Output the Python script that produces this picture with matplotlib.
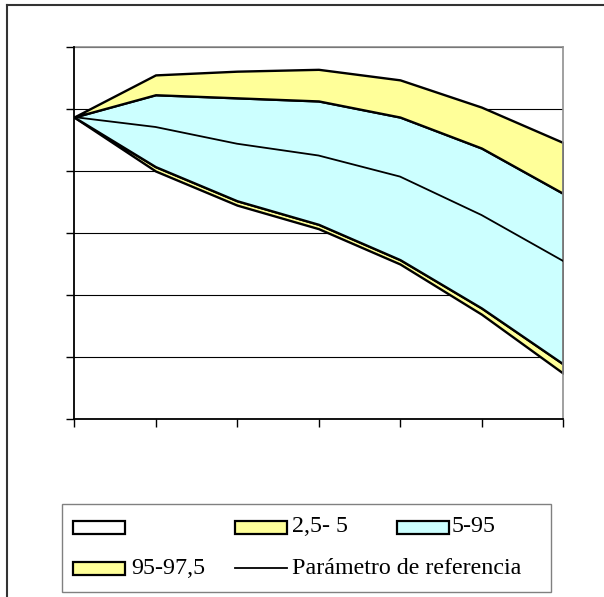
import matplotlib
matplotlib.use("Agg")
import matplotlib.pyplot as plt
from matplotlib.patches import Rectangle
from matplotlib.lines import Line2D

# ---- data (y axis 0..6, unlabeled) ----
periods = [0, 1, 2, 3, 4, 5, 6]
p2_5 = [4.87, 4.00, 3.45, 3.07, 2.50, 1.69, 0.74]
p5 = [4.87, 4.07, 3.52, 3.14, 2.57, 1.79, 0.89]
ref = [4.87, 4.71, 4.44, 4.25, 3.91, 3.29, 2.55]
p95 = [4.87, 5.23, 5.18, 5.13, 4.87, 4.37, 3.64]
p97_5 = [4.87, 5.55, 5.61, 5.64, 5.47, 5.03, 4.46]
y_ticks = [0, 1, 2, 3, 4, 5, 6]
legend_labels = ["", "2,5- 5", "5-95", "95-97,5", "Parámetro de referencia"]

YELLOW = "#FFFF99"
CYAN = "#CCFFFF"

W, H = 604, 597
fig = plt.figure(figsize=(W / 100, H / 100), dpi=100)
plt.rcParams["font.family"] = ["Liberation Serif", "DejaVu Serif"]


def fx(px):
    return px / W


def fy(py):
    return 1 - py / H


ax = fig.add_axes([fx(74), fy(419), fx(563) - fx(74), fy(47) - fy(419)])
ax.set_xlim(periods[0], periods[-1])
ax.set_ylim(y_ticks[0], y_ticks[-1])

edge_lw = 1.7
# white (transparent) base series: no visible fill
ax.fill_between(periods, 0, p2_5, facecolor="none", edgecolor="none",
                linewidth=0, zorder=2)
ax.fill_between(periods, p2_5, p5, facecolor=YELLOW, edgecolor="black",
                linewidth=edge_lw, zorder=2)
ax.fill_between(periods, p5, p95, facecolor=CYAN, edgecolor="black",
                linewidth=edge_lw, zorder=2)
ax.fill_between(periods, p95, p97_5, facecolor=YELLOW, edgecolor="black",
                linewidth=edge_lw, zorder=2)
ax.plot(periods, ref, color="black", linewidth=1.3, zorder=3)

ax.set_yticks(y_ticks)
ax.set_xticks(periods)
ax.set_yticklabels([])
ax.set_xticklabels([])
ax.tick_params(axis="y", direction="out", length=5.5, width=1, color="black")
ax.tick_params(axis="x", direction="out", length=6, width=1, color="black")
ax.set_axisbelow(True)
ax.yaxis.grid(True, color="black", linewidth=0.8, zorder=0)
ax.xaxis.grid(False)
for s in ("top", "right"):
    ax.spines[s].set_color("#909090")
    ax.spines[s].set_linewidth(1.2)
for s in ("left", "bottom"):
    ax.spines[s].set_color("black")
    ax.spines[s].set_linewidth(1.3)
    ax.spines[s].set_zorder(4)

# ---- outer frame (clipped at right/bottom) ----
fig.add_artist(Line2D([fx(7), fx(7)], [fy(5), fy(700)], color="#333333",
                      linewidth=1.5, transform=fig.transFigure))
fig.add_artist(Line2D([fx(7), fx(700)], [fy(5), fy(5)], color="#333333",
                      linewidth=1.5, transform=fig.transFigure))

# ---- legend (manual, Excel-like layout) ----
fig.add_artist(Rectangle((fx(62), fy(592)), fx(551) - fx(62), fy(504) - fy(592),
                         transform=fig.transFigure, facecolor="white",
                         edgecolor="#808080", linewidth=1.0))
fs = 17.3


def patch(x0, yc, color):
    fig.add_artist(Rectangle((fx(x0), fy(yc + 6.5)), fx(52), 13 / H,
                             transform=fig.transFigure, facecolor=color,
                             edgecolor="black", linewidth=1.6))


row1, row2 = 527, 568
patch(73, row1, "white")
patch(235, row1, YELLOW)
fig.text(fx(292), fy(row1), legend_labels[1], fontsize=fs, va="center", ha="left")
patch(397, row1, CYAN)
fig.text(fx(452), fy(row1), legend_labels[2], fontsize=fs, va="center", ha="left")
patch(73, row2, YELLOW)
fig.text(fx(131), fy(row2), legend_labels[3], fontsize=fs, va="center", ha="left")
fig.add_artist(Line2D([fx(235), fx(287)], [fy(row2), fy(row2)], color="black",
                      linewidth=1.3, transform=fig.transFigure))
fig.text(fx(292), fy(row2), legend_labels[4], fontsize=fs, va="center", ha="left")

fig.savefig("out.png", dpi=100)
